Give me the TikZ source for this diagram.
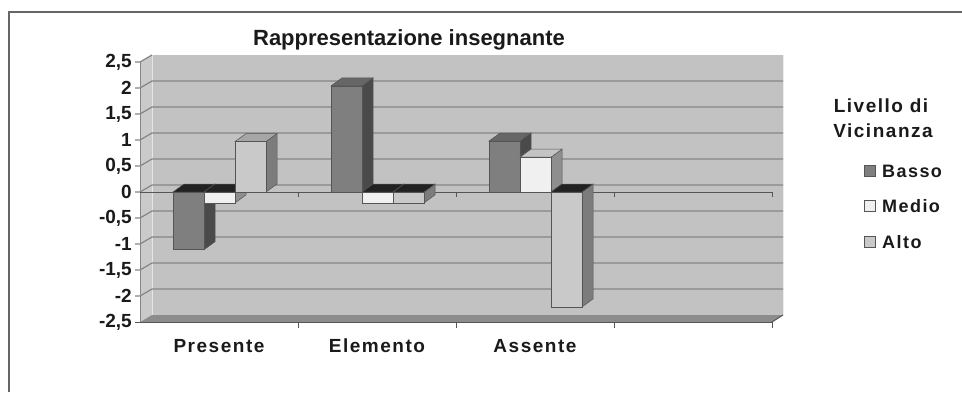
\documentclass[tikz,border=0pt]{standalone}
\usepackage{fontspec}
\setmainfont{Liberation Sans}
\newfontfamily\widefont[LetterSpace=8]{Liberation Sans}
\definecolor{wallc}{HTML}{C2C2C2}
\definecolor{sidec}{HTML}{CACACA}
\definecolor{floorc}{HTML}{8C8C8C}
\definecolor{gridc}{HTML}{858585}
\definecolor{axisc}{HTML}{555555}
\definecolor{bassoF}{HTML}{7F7F7F}
\definecolor{bassoS}{HTML}{4A4A4A}
\definecolor{bassoT}{HTML}{666666}
\definecolor{medioF}{HTML}{F0F0F0}
\definecolor{medioS}{HTML}{8E8E8E}
\definecolor{medioT}{HTML}{C4C4C4}
\definecolor{altoF}{HTML}{C9C9C9}
\definecolor{altoS}{HTML}{7C7C7C}
\definecolor{altoT}{HTML}{A6A6A6}
\definecolor{negT}{HTML}{222222}
\definecolor{txt}{HTML}{1A1A1A}
\newcommand\mybar[5]{%
  \pgfmathsetmacro\yv{192-52*#2}%
  \pgfmathsetmacro\ytop{min(\yv,192)}%
  \pgfmathsetmacro\ybot{max(\yv,192)}%
  \pgfmathsetmacro\xr{#1+31}%
  \draw[baredge,fill=#4] (\xr,\ytop) -- (\xr+11,\ytop-8) -- (\xr+11,\ybot-8) -- (\xr,\ybot) -- cycle;
  \draw[baredge,fill=#5] (#1,\ytop) -- (#1+11,\ytop-8) -- (\xr+11,\ytop-8) -- (\xr,\ytop) -- cycle;
  \draw[baredge,fill=#3] (#1,\ytop) rectangle (\xr,\ybot);
}
\tikzset{
  baredge/.style={draw=axisc, line width=0.5pt},
  gridline/.style={draw=gridc, line width=1.2pt},
  axisline/.style={draw=axisc, line width=1pt},
  ylab/.style={anchor=east, text=txt, font=\fontsize{19}{22}\selectfont\bfseries, inner sep=0pt},
  catlab/.style={anchor=center, text=txt, font=\widefont\fontsize{19}{22}\selectfont\bfseries, inner sep=0pt},
  legtitle/.style={anchor=center, text=txt, font=\widefont\fontsize{19}{22}\selectfont\bfseries, inner sep=0pt},
  leglab/.style={anchor=west, text=txt, font=\widefont\fontsize{18}{21}\selectfont\bfseries, inner sep=0pt},
  legbox/.style={draw=axisc, line width=0.6pt, minimum size=11pt, inner sep=0pt},
}
\begin{document}
\begin{tikzpicture}[x=1pt,y=-1pt]
\useasboundingbox (0,0) rectangle (962,392);
% frame
\draw[gray!80!black, line width=1.3pt] (9,392) -- (9,12) -- (962,12);
% walls
\fill[wallc] (152,55) rectangle (783,315);
\fill[sidec] (140,62) -- (152,55) -- (152,315) -- (140,322) -- cycle;
\fill[floorc] (140,322) -- (152,315) -- (783,315) -- (772,322) -- cycle;
\draw[white!85!gray, line width=1pt] (783,55) -- (783,315);
\draw[white!80!gray, line width=0.8pt] (152,55) -- (152,315);
% grid lines
\foreach \v in {2,1.5,...,-2.1} {
  \draw[gridline] (135,192-52*\v) -- (140,192-52*\v) -- (152,185-52*\v) -- (783,185-52*\v);
}
\draw[gridline] (135,62) -- (140,62) -- (152,55);
\draw[gridline, line width=0.8pt] (140,62) -- (140,322);
% axes
\draw[axisline] (135,322) -- (772,322);
\draw[axisline] (772,322) -- (783,315);
\draw[axisline] (140,192) -- (772,192);
\foreach \x in {298,456,614,772} {
  \draw[axisline, line width=0.7pt] (\x,192) -- (\x,197);
  \draw[axisline, line width=0.7pt] (\x,322) -- (\x,328);
}
% y labels
\node[ylab] (y25) at (132,62) {2,5};
\node[ylab] (y20) at (132,88) {2};
\node[ylab] (y15) at (132,114) {1,5};
\node[ylab] (y10) at (132,140) {1};
\node[ylab] (y05) at (132,166) {0,5};
\node[ylab] (y00) at (132,192) {0};
\node[ylab] (ym05) at (132,218) {-0,5};
\node[ylab] (ym10) at (132,244) {-1};
\node[ylab] (ym15) at (132,270) {-1,5};
\node[ylab] (ym20) at (132,296) {-2};
\node[ylab] (ym25) at (132,322) {-2,5};
% bars: Presente
\mybar{173}{-1.11}{bassoF}{bassoS}{negT}
\mybar{204}{-0.21}{medioF}{medioS}{negT}
\mybar{235}{0.97}{altoF}{altoS}{altoT}
% Elemento
\mybar{331}{2.04}{bassoF}{bassoS}{bassoT}
\mybar{362}{-0.21}{medioF}{medioS}{negT}
\mybar{393}{-0.21}{altoF}{altoS}{negT}
% Assente
\mybar{489}{0.98}{bassoF}{bassoS}{bassoT}
\mybar{520}{0.67}{medioF}{medioS}{medioT}
\mybar{551}{-2.21}{altoF}{altoS}{negT}
% category labels
\node[catlab] (cPres) at (219,346) {Presente};
\node[catlab] (cElem) at (377,346) {Elemento};
\node[catlab] (cAss) at (535,346) {Assente};
% title
\node[text=txt, font=\fontsize{22}{26}\selectfont\bfseries, inner sep=0pt] (title) at (409,40) {Rappresentazione insegnante};
% legend
\node[legtitle] (lt1) at (881,106) {Livello di};
\node[legtitle] (lt2) at (883,131) {Vicinanza};
\node[legbox, fill=bassoF] (k1) at (870,171) {};
\node[legbox, fill=medioF] (k2) at (870,206) {};
\node[legbox, fill=altoF] (k3) at (870,242) {};
\node[leglab] (l1) at (882,171) {Basso};
\node[leglab] (l2) at (882,206) {Medio};
\node[leglab] (l3) at (882,242) {Alto};
\end{tikzpicture}
\end{document}
